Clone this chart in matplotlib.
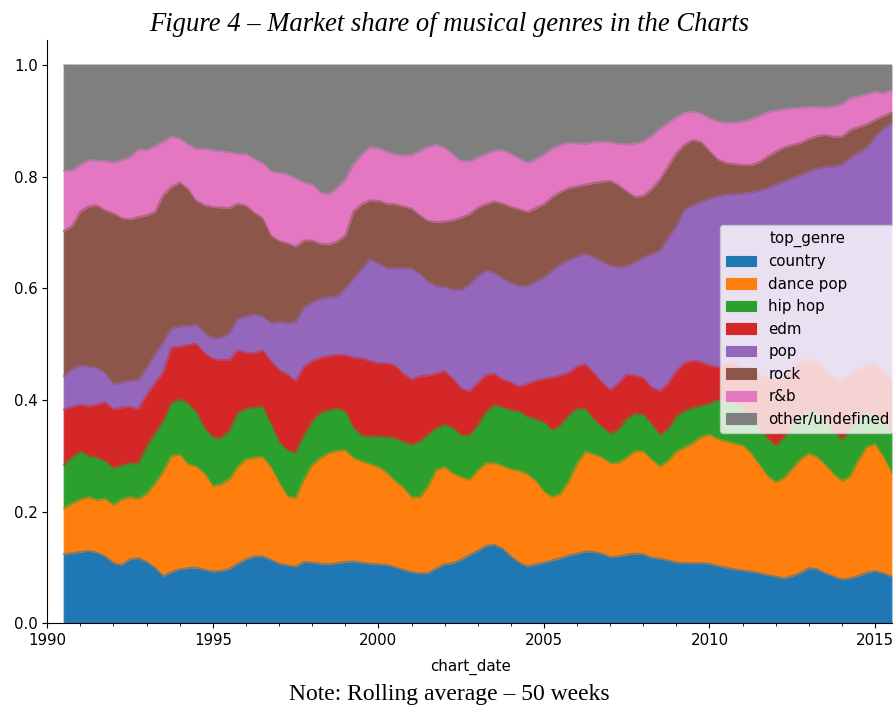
import numpy as np
import pandas as pd
import matplotlib
matplotlib.use("Agg")
import matplotlib.pyplot as plt
import matplotlib.dates as mdates
from datetime import datetime

# ---------------- data (50-week rolling share, sampled quarterly) ----------------
dates = pd.date_range("1990-07-01", periods=101, freq="QS")
genres = ["country", "dance pop", "hip hop", "edm", "pop", "rock", "r&b", "other/undefined"]

country = [0.124, 0.126,
           0.128, 0.130, 0.127, 0.120, 0.108, 0.105, 0.115, 0.117,
           0.110, 0.100, 0.085, 0.092, 0.097, 0.099, 0.100, 0.096,
           0.093, 0.094, 0.098, 0.107, 0.115, 0.120, 0.120, 0.114,
           0.107, 0.104, 0.102, 0.110, 0.109, 0.107, 0.106, 0.108,
           0.110, 0.111, 0.109, 0.107, 0.106, 0.105, 0.101, 0.096,
           0.092, 0.090, 0.090, 0.099, 0.106, 0.108, 0.114, 0.123,
           0.130, 0.139, 0.141, 0.134, 0.120, 0.109, 0.102, 0.106,
           0.109, 0.113, 0.117, 0.122, 0.125, 0.129, 0.128, 0.125,
           0.119, 0.120, 0.123, 0.125, 0.124, 0.118, 0.116, 0.113,
           0.109, 0.108, 0.108, 0.108, 0.107, 0.103, 0.100, 0.097,
           0.095, 0.093, 0.090, 0.087, 0.084, 0.081, 0.085, 0.091,
           0.099, 0.097, 0.090, 0.084, 0.079, 0.081, 0.085, 0.091,
           0.094, 0.090, 0.084]
dance_pop = [0.082, 0.089,
             0.094, 0.096, 0.094, 0.103, 0.104, 0.117, 0.111, 0.106,
             0.122, 0.150, 0.187, 0.208, 0.205, 0.186, 0.181, 0.172,
             0.153, 0.155, 0.160, 0.173, 0.179, 0.177, 0.178, 0.166,
             0.145, 0.124, 0.122, 0.148, 0.175, 0.189, 0.199, 0.201,
             0.200, 0.185, 0.181, 0.178, 0.174, 0.165, 0.154, 0.147,
             0.134, 0.136, 0.155, 0.176, 0.174, 0.160, 0.148, 0.134,
             0.144, 0.148, 0.146, 0.148, 0.156, 0.164, 0.165, 0.149,
             0.127, 0.113, 0.115, 0.132, 0.161, 0.178, 0.175, 0.172,
             0.168, 0.167, 0.174, 0.183, 0.184, 0.175, 0.165, 0.178,
             0.199, 0.207, 0.215, 0.226, 0.231, 0.227, 0.226, 0.225,
             0.224, 0.212, 0.195, 0.177, 0.169, 0.179, 0.192, 0.203,
             0.205, 0.201, 0.194, 0.183, 0.176, 0.182, 0.207, 0.225,
             0.227, 0.209, 0.186]
hip_hop = [0.078, 0.083,
           0.086, 0.074, 0.076, 0.067, 0.066, 0.061, 0.061, 0.064,
           0.085, 0.090, 0.090, 0.095, 0.099, 0.109, 0.097, 0.082,
           0.087, 0.083, 0.087, 0.097, 0.090, 0.090, 0.091, 0.077,
           0.073, 0.082, 0.082, 0.079, 0.078, 0.081, 0.077, 0.076,
           0.070, 0.054, 0.046, 0.050, 0.055, 0.064, 0.077, 0.082,
           0.094, 0.100, 0.093, 0.075, 0.076, 0.082, 0.075, 0.080,
           0.081, 0.091, 0.104, 0.105, 0.106, 0.107, 0.103, 0.111,
           0.124, 0.120, 0.123, 0.119, 0.099, 0.077, 0.063, 0.055,
           0.053, 0.060, 0.069, 0.068, 0.066, 0.064, 0.057, 0.057,
           0.063, 0.066, 0.063, 0.056, 0.056, 0.070, 0.072, 0.072,
           0.067, 0.066, 0.065, 0.068, 0.065, 0.073, 0.076, 0.076,
           0.078, 0.079, 0.079, 0.078, 0.073, 0.085, 0.074, 0.061,
           0.049, 0.063, 0.070]
edm = [0.099, 0.090,
       0.084, 0.089, 0.095, 0.106, 0.105, 0.104, 0.101, 0.097,
       0.093, 0.090, 0.088, 0.099, 0.095, 0.105, 0.123, 0.134,
       0.141, 0.140, 0.127, 0.112, 0.101, 0.097, 0.100, 0.113,
       0.129, 0.136, 0.128, 0.123, 0.108, 0.099, 0.097, 0.096,
       0.101, 0.126, 0.139, 0.135, 0.131, 0.132, 0.130, 0.122,
       0.117, 0.117, 0.106, 0.098, 0.096, 0.088, 0.084, 0.079,
       0.076, 0.067, 0.056, 0.050, 0.050, 0.044, 0.059, 0.069,
       0.078, 0.095, 0.089, 0.076, 0.075, 0.081, 0.083, 0.080,
       0.078, 0.083, 0.080, 0.068, 0.066, 0.066, 0.078, 0.082,
       0.081, 0.086, 0.085, 0.078, 0.068, 0.059, 0.067, 0.074,
       0.072, 0.079, 0.096, 0.108, 0.117, 0.113, 0.105, 0.098,
       0.092, 0.089, 0.093, 0.097, 0.108, 0.098, 0.089, 0.085,
       0.095, 0.089, 0.097]
pop = [0.060, 0.067,
       0.070, 0.071, 0.066, 0.052, 0.045, 0.045, 0.047, 0.052,
       0.048, 0.052, 0.053, 0.034, 0.036, 0.034, 0.034, 0.036,
       0.037, 0.040, 0.048, 0.057, 0.065, 0.070, 0.061, 0.068,
       0.086, 0.092, 0.106, 0.105, 0.105, 0.106, 0.105, 0.105,
       0.119, 0.142, 0.160, 0.182, 0.179, 0.170, 0.174, 0.189,
       0.199, 0.183, 0.168, 0.156, 0.151, 0.160, 0.176, 0.191,
       0.191, 0.187, 0.181, 0.181, 0.178, 0.180, 0.175, 0.177,
       0.182, 0.191, 0.199, 0.202, 0.197, 0.197, 0.207, 0.216,
       0.223, 0.208, 0.194, 0.203, 0.215, 0.239, 0.252, 0.260,
       0.260, 0.274, 0.278, 0.288, 0.299, 0.306, 0.303, 0.301,
       0.312, 0.322, 0.329, 0.340, 0.351, 0.346, 0.340, 0.335,
       0.336, 0.349, 0.362, 0.377, 0.386, 0.388, 0.388, 0.391,
       0.407, 0.435, 0.460]
rock = [0.260, 0.257,
        0.276, 0.287, 0.291, 0.292, 0.306, 0.294, 0.289, 0.292,
        0.273, 0.255, 0.264, 0.254, 0.258, 0.245, 0.222, 0.229,
        0.235, 0.233, 0.224, 0.206, 0.198, 0.182, 0.176, 0.157,
        0.145, 0.143, 0.135, 0.121, 0.111, 0.098, 0.095, 0.098,
        0.095, 0.120, 0.116, 0.106, 0.112, 0.116, 0.115, 0.111,
        0.107, 0.105, 0.109, 0.115, 0.117, 0.124, 0.130, 0.126,
        0.123, 0.119, 0.128, 0.134, 0.136, 0.138, 0.133, 0.132,
        0.131, 0.132, 0.130, 0.129, 0.126, 0.124, 0.133, 0.143,
        0.152, 0.147, 0.134, 0.117, 0.111, 0.116, 0.127, 0.129,
        0.131, 0.117, 0.117, 0.106, 0.085, 0.066, 0.057, 0.054,
        0.051, 0.049, 0.051, 0.056, 0.059, 0.061, 0.059, 0.058,
        0.058, 0.058, 0.057, 0.053, 0.050, 0.050, 0.046, 0.041,
        0.030, 0.023, 0.018]
rnb = [0.108, 0.099,
       0.084, 0.083, 0.080, 0.088, 0.092, 0.104, 0.111, 0.121,
       0.117, 0.118, 0.096, 0.090, 0.078, 0.080, 0.093, 0.101,
       0.102, 0.101, 0.100, 0.089, 0.093, 0.096, 0.099, 0.115,
       0.122, 0.124, 0.122, 0.104, 0.100, 0.092, 0.090, 0.096,
       0.100, 0.085, 0.089, 0.095, 0.094, 0.093, 0.089, 0.091,
       0.096, 0.115, 0.133, 0.138, 0.132, 0.118, 0.101, 0.095,
       0.090, 0.090, 0.091, 0.096, 0.095, 0.091, 0.088, 0.087,
       0.089, 0.087, 0.084, 0.081, 0.077, 0.073, 0.073, 0.072,
       0.069, 0.074, 0.084, 0.096, 0.097, 0.095, 0.091, 0.078,
       0.064, 0.057, 0.051, 0.051, 0.059, 0.068, 0.072, 0.074,
       0.078, 0.082, 0.083, 0.080, 0.074, 0.068, 0.066, 0.063,
       0.057, 0.052, 0.049, 0.054, 0.058, 0.057, 0.055, 0.054,
       0.051, 0.041, 0.040]
other = [0.189, 0.189,
         0.178, 0.170, 0.171, 0.172, 0.174, 0.170, 0.165, 0.151,
         0.152, 0.145, 0.137, 0.128, 0.132, 0.142, 0.150, 0.150,
         0.152, 0.154, 0.156, 0.159, 0.159, 0.168, 0.175, 0.190,
         0.193, 0.195, 0.203, 0.210, 0.214, 0.228, 0.231, 0.220,
         0.205, 0.177, 0.160, 0.147, 0.149, 0.155, 0.160, 0.162,
         0.161, 0.154, 0.146, 0.143, 0.148, 0.160, 0.172, 0.172,
         0.165, 0.159, 0.153, 0.152, 0.159, 0.167, 0.175, 0.169,
         0.160, 0.149, 0.143, 0.139, 0.140, 0.141, 0.138, 0.137,
         0.138, 0.141, 0.142, 0.140, 0.137, 0.127, 0.114, 0.103,
         0.093, 0.085, 0.083, 0.087, 0.095, 0.101, 0.103, 0.103,
         0.101, 0.097, 0.091, 0.084, 0.081, 0.079, 0.077, 0.076,
         0.075, 0.075, 0.076, 0.074, 0.070, 0.059, 0.056, 0.052,
         0.047, 0.050, 0.045]

series = [country, dance_pop, hip_hop, edm, pop, rock, rnb, other]
colors = ["#1f77b4", "#ff7f0e", "#2ca02c", "#d62728",
          "#9467bd", "#8c564b", "#e377c2", "#7f7f7f"]

# ---------------- figure ----------------
W, H = 893, 709
fig = plt.figure(figsize=(W / 100, H / 100), dpi=100)
ax = fig.add_axes([47.3 / W, (H - 623.3) / H, (W - 47.3) / W, (623.3 - 40) / H])

x = mdates.date2num(dates.to_pydatetime())
bottom = np.zeros(len(x))
tops = []
for vals, col, name in zip(series, colors, genres):
    top = bottom + np.asarray(vals)
    ax.fill_between(x, bottom, top, color=col, linewidth=0.8, label=name)
    tops.append(top)
    bottom = top
for top, col in zip(tops, colors):
    ax.plot(x, top, color=col, lw=1.3, alpha=0.55)

ax.set_xlim(mdates.date2num(datetime(1990, 1, 1)), mdates.date2num(datetime(2015, 7, 19)))
ax.set_ylim(0, 1.045)
ax.xaxis.set_major_locator(mdates.YearLocator(5))
ax.xaxis.set_minor_locator(mdates.YearLocator(1))
ax.xaxis.set_major_formatter(mdates.DateFormatter("%Y"))
ax.set_yticks([0.0, 0.2, 0.4, 0.6, 0.8, 1.0])
ax.tick_params(labelsize=10.8)
ax.spines["top"].set_visible(False)
ax.spines["right"].set_visible(False)
ax.set_xlabel("chart_date", fontsize=10.8, labelpad=7.5)

leg = ax.legend(title="top_genre", loc="center right", bbox_to_anchor=(1.012, 0.505),
                fontsize=10.8, title_fontsize=10.8)

fig.text(0.503, 0.965, "Figure 4 \u2013 Market share of musical genres in the Charts",
         family="Liberation Serif", style="italic", fontsize=19.2, ha="center", va="center")
fig.text(0.503, 0.021, "Note: Rolling average \u2013 50 weeks",
         family="Liberation Serif", fontsize=17, ha="center", va="center")

fig.savefig("out.png", dpi=100)
